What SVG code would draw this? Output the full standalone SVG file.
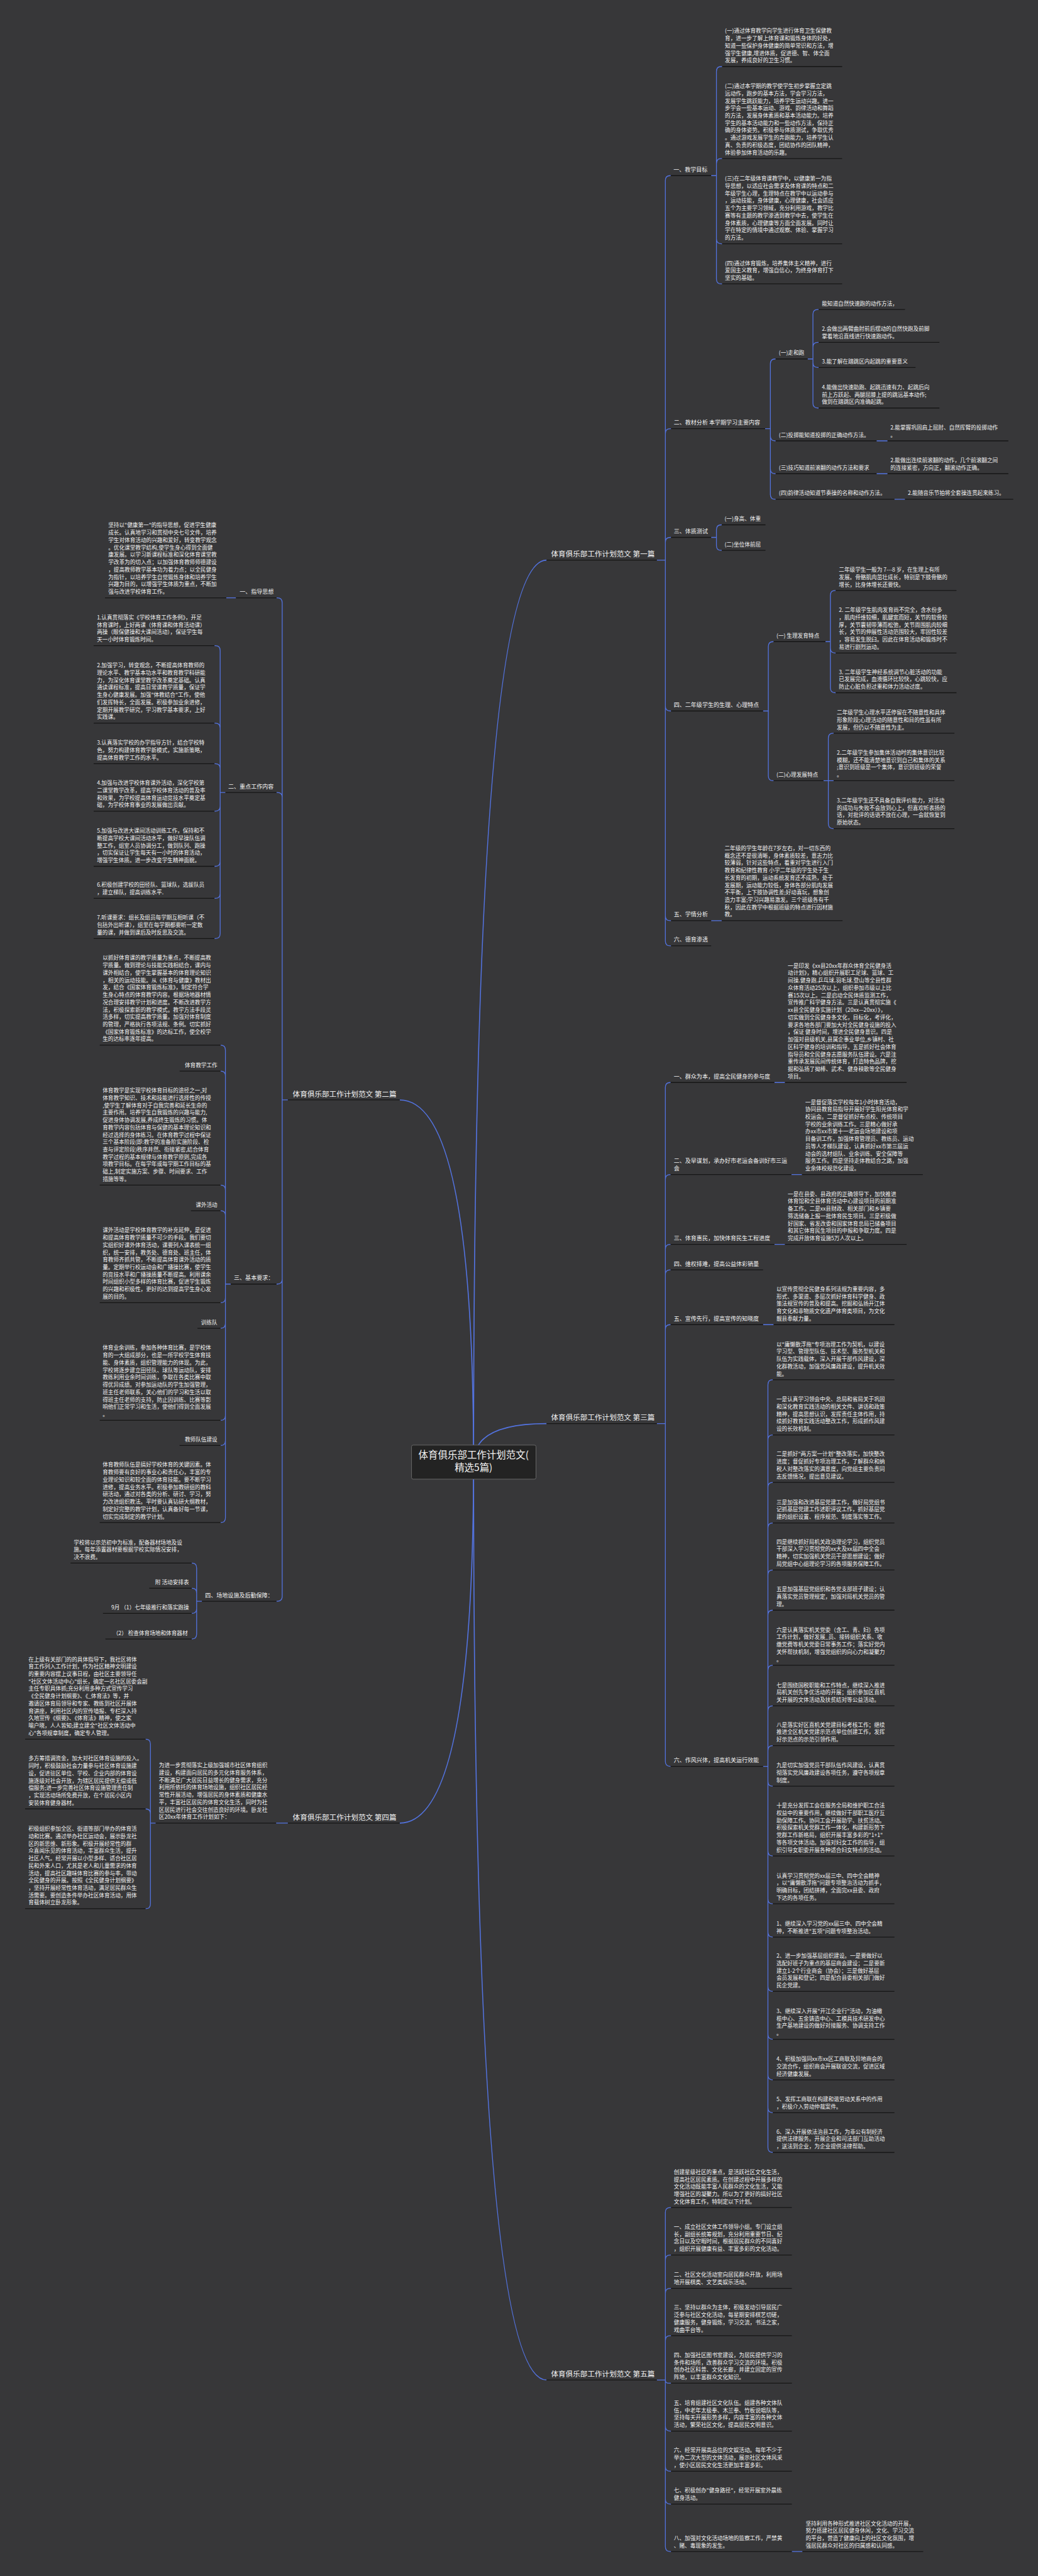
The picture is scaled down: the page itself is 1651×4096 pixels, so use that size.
<svg xmlns="http://www.w3.org/2000/svg" width="1651" height="4096" viewBox="0 0 1651 4096">
<style>
text{font-family:"Noto Sans CJK SC","Noto Sans",sans-serif;fill:#f2f2f2}
.t{font-size:13.4px}
.s{font-size:14px}
.b{font-size:18px}
.c{font-size:24px}
.u{stroke:#161616;stroke-width:2;fill:none}
#links path{stroke:#5373e0;fill:none;stroke-width:2}
#links .m{stroke-width:2.6}
.e{text-anchor:end}
</style>
<rect width="1651" height="4096" fill="#373739"/>
<g transform="scale(0.6449)">
<g id="links">
<path class="m" d="M1168 3605Q1168 1381 1348 1381"/>
<path class="m" d="M1168 3605Q1168 2712 986 2712"/>
<path class="m" d="M1168 3605Q1168 3510 1348 3510"/>
<path class="m" d="M1168 3605Q1168 4495 986 4495"/>
<path class="m" d="M1168 3605Q1168 5868 1348 5868"/>
<path d="M1620 1381H1641V445Q1641 433 1653 433H1655M1620 1381H1641V1069Q1641 1057 1653 1057H1655M1620 1381H1641V1337Q1641 1325 1653 1325H1655M1620 1381H1641V1741Q1641 1753 1653 1753H1655M1620 1381H1641V2258Q1641 2270 1653 2270H1655M1620 1381H1641V2320Q1641 2332 1653 2332H1655"/>
<path d="M1754 433H1767V176Q1767 164 1779 164H1781M1754 433H1767V403Q1767 391 1779 391H1781M1754 433H1767V589Q1767 601 1779 601H1781M1754 433H1767V688Q1767 700 1779 700H1781"/>
<path d="M1887 1057H1900V897Q1900 885 1912 885H1913M1887 1057H1900V1075Q1900 1087 1912 1087H1913M1887 1057H1900V1156Q1900 1168 1912 1168H1913M1887 1057H1900V1219Q1900 1231 1912 1231H1913"/>
<path d="M1992 885H2005V775Q2005 763 2017 763H2019M1992 885H2005V856Q2005 844 2017 844H2019M1992 885H2005V894Q2005 906 2017 906H2019M1992 885H2005V994Q2005 1006 2017 1006H2019"/>
<path d="M2162 1087H2189M2162 1168H2189M2206 1231H2232"/>
<path d="M1754 1325H1767V1306Q1767 1294 1779 1294H1780M1754 1325H1767V1345Q1767 1357 1779 1357H1780"/>
<path d="M1882 1753H1895V1594Q1895 1582 1907 1582H1908M1882 1753H1895V1913Q1895 1925 1907 1925H1908"/>
<path d="M2036 1582H2048V1468Q2048 1456 2060 1456H2061M2036 1582H2048V1598Q2048 1610 2060 1610H2061M2036 1582H2048V1696Q2048 1708 2060 1708H2061"/>
<path d="M2031 1925H2043V1820Q2043 1808 2055 1808H2056M2031 1925H2056M2031 1925H2043V2031Q2043 2043 2055 2043H2056"/>
<path d="M1754 2270H1780"/>
<path d="M710 2712H696V1486Q696 1474 684 1474H682M710 2712H696V1966Q696 1954 684 1954H682M710 2712H696V3154Q696 3166 684 3166H682M710 2712H696V3936Q696 3948 684 3948H682"/>
<path d="M582 1474H558"/>
<path d="M556 1954H543V1604Q543 1592 531 1592H529M556 1954H543V1795Q543 1783 531 1783H529M556 1954H543V1895Q543 1883 531 1883H529M556 1954H543V1988Q543 2000 531 2000H529M556 1954H543V2124Q543 2136 531 2136H529M556 1954H543V2203Q543 2215 531 2215H529M556 1954H543V2302Q543 2314 531 2314H529"/>
<path d="M569 3166H556V2589Q556 2577 544 2577M569 3166H556V2653Q556 2641 544 2641M569 3166H556V2934Q556 2922 544 2922M569 3166H556V2997Q556 2985 544 2985M569 3166H556V3200Q556 3212 544 3212M569 3166H556V3263Q556 3275 544 3275M569 3166H556V3490Q556 3502 544 3502M569 3166H556V3552Q556 3564 544 3564M569 3166H556V3742Q556 3754 544 3754"/>
<path d="M498 3948H485V3866Q485 3854 473 3854M498 3948H485V3928Q485 3916 473 3916M498 3948H485V3966Q485 3978 473 3978M498 3948H485V4029Q485 4041 473 4041"/>
<path d="M1620 3510H1641V2681Q1641 2669 1653 2669H1654M1620 3510H1641V2908Q1641 2896 1653 2896H1654M1620 3510H1641V3080Q1641 3068 1653 3068H1654M1620 3510H1641V3143Q1641 3131 1653 3131H1654M1620 3510H1641V3278Q1641 3266 1653 3266H1654M1620 3510H1641V4343Q1641 4355 1653 4355H1654"/>
<path d="M1910 2669H1936M1952 2896H1978M1910 3068H1936M1882 3266H1908"/>
<path d="M1882 4355H1894V3414Q1894 3402 1906 3402M1882 4355H1894V3550Q1894 3538 1906 3538M1882 4355H1894V3667Q1894 3655 1906 3655M1882 4355H1894V3767Q1894 3755 1906 3755M1882 4355H1894V3883Q1894 3871 1906 3871M1882 4355H1894V3982Q1894 3970 1906 3970M1882 4355H1894V4118Q1894 4106 1906 4106M1882 4355H1894V4218Q1894 4206 1906 4206M1882 4355H1894V4316Q1894 4304 1906 4304M1882 4355H1894V4392Q1894 4404 1906 4404M1882 4355H1894V4564Q1894 4576 1906 4576M1882 4355H1894V4682Q1894 4694 1906 4694M1882 4355H1894V4764Q1894 4776 1906 4776M1882 4355H1894V4898Q1894 4910 1906 4910M1882 4355H1894V5016Q1894 5028 1906 5028M1882 4355H1894V5116Q1894 5128 1906 5128M1882 4355H1894V5197Q1894 5209 1906 5209M1882 4355H1894V5295Q1894 5307 1906 5307"/>
<path d="M710 4495H681"/>
<path d="M384 4495H371V4300Q371 4288 359 4288M384 4495H371V4472Q371 4460 359 4460M384 4495H371V4694Q371 4706 359 4706"/>
<path d="M1620 5868H1641V5455Q1641 5443 1653 5443H1655M1620 5868H1641V5572Q1641 5560 1653 5560H1655M1620 5868H1641V5654Q1641 5642 1653 5642H1655M1620 5868H1641V5771Q1641 5759 1653 5759H1655M1620 5868H1641V5868Q1641 5876 1649 5876H1655M1620 5868H1641V5982Q1641 5994 1653 5994H1655M1620 5868H1641V6081Q1641 6093 1653 6093H1655M1620 5868H1641V6162Q1641 6174 1653 6174H1655M1620 5868H1641V6279Q1641 6291 1653 6291H1655"/>
<path d="M1953 6291H1979"/>
</g>

<g id="n0">
<rect x="1015" y="3563" width="307" height="84" rx="4" fill="#232323" stroke="#6a6a6a" stroke-width="1.5"/>
<text class="c" x="1168" y="3596" text-anchor="middle">体育俱乐部工作计划范文(</text>
<text class="c" x="1168" y="3627" text-anchor="middle">精选5篇)</text>
</g>

<!-- Branch 1 -->
<g id="b1"><text class="b" x="1359" y="1373">体育俱乐部工作计划范文 第一篇</text><path class="u" d="M1348 1381H1620"/></g>
<g id="b1-1"><text class="s" x="1661" y="423">一、教学目标</text><path class="u" d="M1654 433H1754"/></g>
<g id="b1-1-1"><text class="t" x="1788" y="81.2"><tspan x="1788">(一)通过体育教学向学生进行体育卫生保健教</tspan><tspan x="1788" dy="18.2">育，进一步了解上体育课和锻炼身体的好处，</tspan><tspan x="1788" dy="18.2">知道一些保护身体健康的简单常识和方法，增</tspan><tspan x="1788" dy="18.2">强学生健康,增进体质，促进德、智、体全面</tspan><tspan x="1788" dy="18.2">发展，养成良好的卫生习惯。</tspan></text><path class="u" d="M1781 164H2077"/></g>
<g id="b1-1-2"><text class="t" x="1788" y="217.2"><tspan x="1788">(二)通过本学期的教学使学生初步掌握立定跳</tspan><tspan x="1788" dy="18.2">远动作，跑步的基本方法，学会学习方法，</tspan><tspan x="1788" dy="18.2">发展学生跳跃能力，培养学生运动兴趣。进一</tspan><tspan x="1788" dy="18.2">步学会一些基本运动、游戏、韵律活动和舞蹈</tspan><tspan x="1788" dy="18.2">的方法，发展身体素质和基本活动能力。培养</tspan><tspan x="1788" dy="18.2">学生的基本活动能力和一些动作方法，保持正</tspan><tspan x="1788" dy="18.2">确的身体姿势。积极参与体质测试，争取优秀</tspan><tspan x="1788" dy="18.2">。通过游戏发展学生的奔跑能力，培养学生认</tspan><tspan x="1788" dy="18.2">真、负责的积极态度，团结协作的团队精神，</tspan><tspan x="1788" dy="18.2">体验参加体育活动的乐趣。</tspan></text><path class="u" d="M1781 391H2077"/></g>
<g id="b1-1-3"><text class="t" x="1788" y="445.4"><tspan x="1788">(三)在二年级体育课教学中，以健康第一为指</tspan><tspan x="1788" dy="18.2">导思想，以适应社会需求及体育课的特点和二</tspan><tspan x="1788" dy="18.2">年级学生心理，生理特点在教学中以运动参与</tspan><tspan x="1788" dy="18.2">，运动技能，身体健康，心理健康，社会适应</tspan><tspan x="1788" dy="18.2">五个为主要学习领域，充分利用游戏，教学比</tspan><tspan x="1788" dy="18.2">赛等有主题的教学渗透到教学中去，使学生在</tspan><tspan x="1788" dy="18.2">身体素质，心理健康等方面全面发展。同时让</tspan><tspan x="1788" dy="18.2">学在特定的情境中通过观察、体验、掌握学习</tspan><tspan x="1788" dy="18.2">的方法。</tspan></text><path class="u" d="M1781 601H2077"/></g>
<g id="b1-1-4"><text class="t" x="1788" y="653.6"><tspan x="1788">(四)通过体育锻炼，培养集体主义精神，进行</tspan><tspan x="1788" dy="18.2">爱国主义教育，增强自信心，为终身体育打下</tspan><tspan x="1788" dy="18.2">坚实的基础。</tspan></text><path class="u" d="M1781 700H2077"/></g>

<g id="b1-2"><text class="s" x="1662" y="1047">二、教材分析 本学期学习主要内容</text><path class="u" d="M1655 1057H1887"/></g>
<g id="b1-2-1"><text class="t" x="1921" y="875">(一)走和跑</text><path class="u" d="M1913 885H1992"/></g>
<g id="b1-2-1-1"><text class="t" x="2027" y="753">能知道自然快速跑的动作方法，</text><path class="u" d="M2019 763H2232"/></g>
<g id="b1-2-1-2"><text class="t" x="2027" y="815.8"><tspan x="2027">2.会做出两臂曲肘前后摆动的自然快跑及前脚</tspan><tspan x="2027" dy="18.2">掌着地沿直线进行快速跑动作。</tspan></text><path class="u" d="M2019 844H2317"/></g>
<g id="b1-2-1-3"><text class="t" x="2027" y="896">3.能了解在踏跳区内起跳的重要意义</text><path class="u" d="M2019 906H2258"/></g>
<g id="b1-2-1-4"><text class="t" x="2027" y="959.6"><tspan x="2027">4.能做出快速助跑、起跳迅速有力、起跳后向</tspan><tspan x="2027" dy="18.2">前上方跃起、两腿屈膝上提的跳远基本动作;</tspan><tspan x="2027" dy="18.2">做到在踏跳区内准确起跳。</tspan></text><path class="u" d="M2019 1006H2317"/></g>
<g id="b1-2-2"><text class="t" x="1921" y="1077">(二)投掷能知道投掷的正确动作方法。</text><path class="u" d="M1913 1087H2162"/></g>
<g id="b1-2-2-1"><text class="t" x="2196" y="1058.8"><tspan x="2196">2.能掌握巩固肩上屈肘、自然挥臂的投掷动作</tspan><tspan x="2196" dy="18.2">。</tspan></text><path class="u" d="M2189 1087H2487"/></g>
<g id="b1-2-3"><text class="t" x="1921" y="1158">(三)技巧知道前滚翻的动作方法和要求</text><path class="u" d="M1913 1168H2162"/></g>
<g id="b1-2-3-1"><text class="t" x="2196" y="1139.8"><tspan x="2196">2.能做出连续前滚翻的动作，几个前滚翻之间</tspan><tspan x="2196" dy="18.2">的连接紧密，方向正，翻滚动作正确。</tspan></text><path class="u" d="M2189 1168H2487"/></g>
<g id="b1-2-4"><text class="t" x="1921" y="1221">(四)韵律活动知道节奏操的名称和动作方法。</text><path class="u" d="M1913 1231H2206"/></g>
<g id="b1-2-4-1"><text class="t" x="2239" y="1221">2.能随音乐节拍将全套操连贯起来练习。</text><path class="u" d="M2232 1231H2499"/></g>

<g id="b1-3"><text class="s" x="1662" y="1315">三、体质测试</text><path class="u" d="M1655 1325H1754"/></g>
<g id="b1-3-1"><text class="t" x="1787" y="1284">(一)身高、体重</text><path class="u" d="M1780 1294H1888"/></g>
<g id="b1-3-2"><text class="t" x="1787" y="1347">(二)坐位体前屈</text><path class="u" d="M1780 1357H1888"/></g>

<g id="b1-4"><text class="s" x="1662" y="1743">四、二年级学生的生理、心理特点</text><path class="u" d="M1655 1753H1882"/></g>
<g id="b1-4-1"><text class="t" x="1915" y="1572">(一) 生理发育特点</text><path class="u" d="M1908 1582H2036"/></g>
<g id="b1-4-1-1"><text class="t" x="2069" y="1409.6"><tspan x="2069">二年级学生一般为 7---8 岁，在生理上有所</tspan><tspan x="2069" dy="18.2">发展。骨骼肌肉茁壮成长，特别是下肢骨骼的</tspan><tspan x="2069" dy="18.2">增长，比身体增长还要快。</tspan></text><path class="u" d="M2061 1456H2359"/></g>
<g id="b1-4-1-2"><text class="t" x="2069" y="1509"><tspan x="2069">2. 二年级学生肌肉发育尚不完全，含水份多</tspan><tspan x="2069" dy="18.2">，肌肉纤维较细，肌腱宽而短，关节的软骨较</tspan><tspan x="2069" dy="18.2">厚，关节囊韧带薄而松弛，关节周围肌肉较细</tspan><tspan x="2069" dy="18.2">长，关节的伸展性活动范围较大，牢固性较差</tspan><tspan x="2069" dy="18.2">，容易发生脱臼。因此在体育活动和锻炼时不</tspan><tspan x="2069" dy="18.2">易进行剧烈运动。</tspan></text><path class="u" d="M2061 1610H2359"/></g>
<g id="b1-4-1-3"><text class="t" x="2069" y="1661.6"><tspan x="2069">3. 二年级学生神经系统调节心脏活动的功能</tspan><tspan x="2069" dy="18.2">已发展完成，血液循环比较快，心跳较快，应</tspan><tspan x="2069" dy="18.2">防止心脏负担过重和体力活动过度。</tspan></text><path class="u" d="M2061 1708H2359"/></g>
<g id="b1-4-2"><text class="t" x="1915" y="1915">(二)心理发展特点</text><path class="u" d="M1908 1925H2031"/></g>
<g id="b1-4-2-1"><text class="t" x="2064" y="1761.6"><tspan x="2064">二年级学生心理水平还停留在不随意性和具体</tspan><tspan x="2064" dy="18.2">形象阶段;心理活动的随意性和目的性虽有所</tspan><tspan x="2064" dy="18.2">发展，但仍以不随意性为主。</tspan></text><path class="u" d="M2056 1808H2354"/></g>
<g id="b1-4-2-2"><text class="t" x="2064" y="1860.4"><tspan x="2064">2.二年级学生参加集体活动时的集体意识比较</tspan><tspan x="2064" dy="18.2">模糊，还不能清楚地意识到自己和集体的关系</tspan><tspan x="2064" dy="18.2">;意识到班级是一个集体，意识到班级的荣誉</tspan><tspan x="2064" dy="18.2">。</tspan></text><path class="u" d="M2056 1925H2354"/></g>
<g id="b1-4-2-3"><text class="t" x="2064" y="1978.4"><tspan x="2064">3.二年级学生还不具备自我评价能力，对活动</tspan><tspan x="2064" dy="18.2">的成功与失败不会放到心上，但喜欢听表扬的</tspan><tspan x="2064" dy="18.2">话，对批评的话语不放在心理，一会就恢复到</tspan><tspan x="2064" dy="18.2">原始状态。</tspan></text><path class="u" d="M2056 2043H2354"/></g>

<g id="b1-5"><text class="s" x="1662" y="2260">五、学情分析</text><path class="u" d="M1655 2270H1754"/></g>
<g id="b1-5-1"><text class="t" x="1787" y="2096.2"><tspan x="1787">二年级的学生年龄在7岁左右，对一切东西的</tspan><tspan x="1787" dy="18.2">概念还不是很清晰，身体素质较差，意志力比</tspan><tspan x="1787" dy="18.2">较薄弱，针对这些特点，着重对学生进行入门</tspan><tspan x="1787" dy="18.2">教育和纪律性教育  小学二年级的学生处于生</tspan><tspan x="1787" dy="18.2">长发育的初期，运动系统发育还不成熟，处于</tspan><tspan x="1787" dy="18.2">发展期，运动能力较低，身体各部分肌肉发展</tspan><tspan x="1787" dy="18.2">不平衡，上下肢协调性差;好动喜玩，想象创</tspan><tspan x="1787" dy="18.2">造力丰富;学习兴趣易激发。三个班级各有千</tspan><tspan x="1787" dy="18.2">秋，因此在教学中根据班级的特点进行因材施</tspan><tspan x="1787" dy="18.2">教。</tspan></text><path class="u" d="M1780 2270H2078"/></g>
<g id="b1-6"><text class="s" x="1662" y="2322">六、德育渗透</text><path class="u" d="M1655 2332H1754"/></g>

<!-- Branch 2 -->
<g id="b2"><text class="b" x="722" y="2704">体育俱乐部工作计划范文 第二篇</text><path class="u" d="M710 2712H986"/></g>
<g id="b2-1"><text class="s" x="591" y="1464">一、指导思想</text><path class="u" d="M582 1474H682"/></g>
<g id="b2-1-1"><text class="t" x="267" y="1300.2"><tspan x="267">坚持以"健康第一"的指导思想，促进学生健康</tspan><tspan x="267" dy="18.2">成长。认真地学习和贯彻中央七号文件，培养</tspan><tspan x="267" dy="18.2">学生对体育活动的兴趣和爱好，转变教学观念</tspan><tspan x="267" dy="18.2">。优化课堂教学结构,使学生身心得到全面健</tspan><tspan x="267" dy="18.2">康发展。以学习新课程标准和深化体育课堂教</tspan><tspan x="267" dy="18.2">学改革为的切入点；以加强体育教师师德建设</tspan><tspan x="267" dy="18.2">，提高教师教学基本功为着力点；以全民健身</tspan><tspan x="267" dy="18.2">为指针，以培养学生自觉锻炼身体和培养学生</tspan><tspan x="267" dy="18.2">兴趣为目的，以增强学生体质为重点，不断加</tspan><tspan x="267" dy="18.2">强与改进学校体育工作。</tspan></text><path class="u" d="M259 1474H558"/></g>
<g id="b2-2"><text class="s" x="563" y="1944">二、重点工作内容</text><path class="u" d="M556 1954H682"/></g>
<g id="b2-2-1"><text class="t" x="239" y="1527.4"><tspan x="239">1.认真贯彻落实《学校体育工作条例》，开足</tspan><tspan x="239" dy="18.2">体育课时，上好两课（体育课和体育活动课）</tspan><tspan x="239" dy="18.2">两操（眼保健操和大课间活动），保证学生每</tspan><tspan x="239" dy="18.2">天一小时体育锻炼时间。</tspan></text><path class="u" d="M231 1592H529"/></g>
<g id="b2-2-2"><text class="t" x="239" y="1645.6"><tspan x="239">2.加强学习，转变观念，不断提高体育教师的</tspan><tspan x="239" dy="18.2">理论水平、教学基本功水平和教育教学科研能</tspan><tspan x="239" dy="18.2">力，为深化体育课堂教学改革奠定基础。认真</tspan><tspan x="239" dy="18.2">通读课程标准，提高日常课教学质量，保证学</tspan><tspan x="239" dy="18.2">生身心健康发展。加强"体教结合"工作，使他</tspan><tspan x="239" dy="18.2">们发挥特长，全面发展。积极参加业余进修，</tspan><tspan x="239" dy="18.2">定期开展教学研究，学习教学基本要求，上好</tspan><tspan x="239" dy="18.2">实践课。</tspan></text><path class="u" d="M231 1783H529"/></g>
<g id="b2-2-3"><text class="t" x="239" y="1836.6"><tspan x="239">3.认真落实学校的办学指导方针，结合学校特</tspan><tspan x="239" dy="18.2">色，努力构建体育教学新模式，实施新策略，</tspan><tspan x="239" dy="18.2">提高体育教学工作的水平。</tspan></text><path class="u" d="M231 1883H529"/></g>
<g id="b2-2-4"><text class="t" x="239" y="1935.4"><tspan x="239">4.加强与改进学校体育课外活动，深化学校第</tspan><tspan x="239" dy="18.2">二课堂教学改革，提高学校体育活动的普及率</tspan><tspan x="239" dy="18.2">和效果，为学校提高体育运动竞技水平奠定基</tspan><tspan x="239" dy="18.2">础，为学校体育事业的发展做出贡献。</tspan></text><path class="u" d="M231 2000H529"/></g>
<g id="b2-2-5"><text class="t" x="239" y="2053.2"><tspan x="239">5.加强与改进大课间活动训练工作，保持和不</tspan><tspan x="239" dy="18.2">断提高学校大课间活动水平，做好早操队伍调</tspan><tspan x="239" dy="18.2">整工作，组室人员协调分工，做到队列、跑操</tspan><tspan x="239" dy="18.2">，切实保证让学生每天有一小时的体育活动，</tspan><tspan x="239" dy="18.2">增强学生体质。进一步改变学生精神面貌。</tspan></text><path class="u" d="M231 2136H529"/></g>
<g id="b2-2-6"><text class="t" x="239" y="2186.8"><tspan x="239">6.积极创建学校的田径队、篮球队，选拔队员</tspan><tspan x="239" dy="18.2">，建立梯队，提高训练水平.</tspan></text><path class="u" d="M231 2215H529"/></g>
<g id="b2-2-7"><text class="t" x="239" y="2267.6"><tspan x="239">7.听课要求：组长及组员每学期互相听课（不</tspan><tspan x="239" dy="18.2">包括外出听课），组里在每学期都要听一定数</tspan><tspan x="239" dy="18.2">量的课，并做到课后及时反思及交流。</tspan></text><path class="u" d="M231 2314H529"/></g>
<g id="b2-3"><text class="s" x="577" y="3156">三、基本要求：</text><path class="u" d="M569 3166H682"/></g>
<g id="b2-3-1"><text class="t" x="253" y="2366.8"><tspan x="253">以抓好体育课的教学质量为重点，不断提高教</tspan><tspan x="253" dy="18.2">学质量。做到理论与技能实践相结合，课内与</tspan><tspan x="253" dy="18.2">课外相结合，使学生掌握基本的体育理论知识</tspan><tspan x="253" dy="18.2">，相关的运动技能。从《体育与健康》教材出</tspan><tspan x="253" dy="18.2">发，结合《国家体育锻炼标准》，制定符合学</tspan><tspan x="253" dy="18.2">生身心特点的体育教学内容。根据场地器材情</tspan><tspan x="253" dy="18.2">况合理安排教学计划和进度。不断改进教学方</tspan><tspan x="253" dy="18.2">法，积极探索新的教学模式。教学方法手段灵</tspan><tspan x="253" dy="18.2">活多样，切实提高教学质量。加强对体育制度</tspan><tspan x="253" dy="18.2">的管理，严格执行各项法规、条例。切实抓好</tspan><tspan x="253" dy="18.2">《国家体育锻炼标准》的达标工作，使全校学</tspan><tspan x="253" dy="18.2">生的达标率逐年提高。</tspan></text><path class="u" d="M246 2577H544"/></g>
<g id="b2-3-2"><text class="t e" x="536" y="2631">体育教学工作</text><path class="u" d="M443 2641H544"/></g>
<g id="b2-3-3"><text class="t" x="253" y="2693.6"><tspan x="253">体育教学是实现学校体育目标的途径之一,对</tspan><tspan x="253" dy="18.2">体育教学知识、技术和技能进行选择性的传授</tspan><tspan x="253" dy="18.2">,使学生了解体育对于自我完善和延长生命的</tspan><tspan x="253" dy="18.2">主要作用。培养学生自我锻炼的兴趣与能力,</tspan><tspan x="253" dy="18.2">促进身体协调发展,养成终生锻炼的习惯。体</tspan><tspan x="253" dy="18.2">育教学内容包括体育与保健的基本理论知识和</tspan><tspan x="253" dy="18.2">经过选择的身体练习。在体育教学过程中保证</tspan><tspan x="253" dy="18.2">三个基本阶段(即:教学的准备阶实施阶段、检</tspan><tspan x="253" dy="18.2">查与评定阶段)秩序井然、衔接紧密,结合体育</tspan><tspan x="253" dy="18.2">教学过程的基本规律与体育教学原则,完成各</tspan><tspan x="253" dy="18.2">项教学目标。在每学年或每学期工作目标的基</tspan><tspan x="253" dy="18.2">础上,制定实施方案、步骤、时间要求、工作</tspan><tspan x="253" dy="18.2">措施等等。</tspan></text><path class="u" d="M246 2922H544"/></g>
<g id="b2-3-4"><text class="t e" x="536" y="2975">课外活动</text><path class="u" d="M471 2985H544"/></g>
<g id="b2-3-5"><text class="t" x="253" y="3038.2"><tspan x="253">课外活动是学校体育教学的补充延伸，是促进</tspan><tspan x="253" dy="18.2">和提高体育教学质量不可少的手段。我们要切</tspan><tspan x="253" dy="18.2">实组织好课外体育活动，课要列入课表统一组</tspan><tspan x="253" dy="18.2">织，统一安排，教务处、德育处、班主任，体</tspan><tspan x="253" dy="18.2">育教师齐抓共管，不断提高体育课外活动的质</tspan><tspan x="253" dy="18.2">量。定期举行校运动会和广播操比赛，使学生</tspan><tspan x="253" dy="18.2">的竞技水平和广播操质量不断提高。利用课余</tspan><tspan x="253" dy="18.2">时间组织小型多样的体育比赛，促进学生锻炼</tspan><tspan x="253" dy="18.2">的兴趣和积极性，更好的达到提高学生身心发</tspan><tspan x="253" dy="18.2">展的目的。</tspan></text><path class="u" d="M246 3212H544"/></g>
<g id="b2-3-6"><text class="t e" x="536" y="3265">训练队</text><path class="u" d="M487 3275H544"/></g>
<g id="b2-3-7"><text class="t" x="253" y="3328.2"><tspan x="253">体育业余训练，参加各种体育比赛，是学校体</tspan><tspan x="253" dy="18.2">育的一大组成部分，也是一所学校学生体育技</tspan><tspan x="253" dy="18.2">能、身体素质，组织管理能力的体现。为此，</tspan><tspan x="253" dy="18.2">学校将逐步建立田径队、球队等运动队，安排</tspan><tspan x="253" dy="18.2">教练利用业余时间训练，争取在各类比赛中取</tspan><tspan x="253" dy="18.2">得优异成绩。对参加运动队的学生加强管理，</tspan><tspan x="253" dy="18.2">班主任老师联系，关心他们的学习和生活以取</tspan><tspan x="253" dy="18.2">得班主任老师的支持，防止因训练、比赛等影</tspan><tspan x="253" dy="18.2">响他们正常学习和生活，使他们得到全面发展</tspan><tspan x="253" dy="18.2">。</tspan></text><path class="u" d="M246 3502H544"/></g>
<g id="b2-3-8"><text class="t e" x="536" y="3554">教师队伍建设</text><path class="u" d="M443 3564H544"/></g>
<g id="b2-3-9"><text class="t" x="253" y="3616.6"><tspan x="253">体育教师队伍是搞好学校体育的关键因素。体</tspan><tspan x="253" dy="18.2">育教师要有良好的事业心和责任心，丰富的专</tspan><tspan x="253" dy="18.2">业理论知识和较全面的体育技能。要不断学习</tspan><tspan x="253" dy="18.2">进修，提高业务水平。积极参加教研组的教科</tspan><tspan x="253" dy="18.2">研活动，通过对各类的分析、研讨、学习，努</tspan><tspan x="253" dy="18.2">力改进组织教法。平时要认真钻研大纲教材，</tspan><tspan x="253" dy="18.2">制定好完整的教学计划，认真备好每一节课，</tspan><tspan x="253" dy="18.2">切实完成制定的教学计划。</tspan></text><path class="u" d="M246 3754H544"/></g>
<g id="b2-4"><text class="s" x="506" y="3938">四、场地设施及后勤保障：</text><path class="u" d="M498 3948H682"/></g>
<g id="b2-4-1"><text class="t" x="182" y="3807.6"><tspan x="182">学校将以示范初中为标准，配备器材场地及设</tspan><tspan x="182" dy="18.2">施。每年添置器材要根据学校实际情况安排，</tspan><tspan x="182" dy="18.2">决不浪费。</tspan></text><path class="u" d="M174 3854H473"/></g>
<g id="b2-4-2"><text class="t e" x="466" y="3906">附 活动安排表</text><path class="u" d="M368 3916H473"/></g>
<g id="b2-4-3"><text class="t e" x="466" y="3968">9月  （1）七年级推行和落实跑操</text><path class="u" d="M254 3978H473"/></g>
<g id="b2-4-4"><text class="t e" x="463" y="4031">（2） 检查体育场地和体育器材</text><path class="u" d="M260 4041H473"/></g>

<!-- Branch 3 -->
<g id="b3"><text class="b" x="1359" y="3502">体育俱乐部工作计划范文 第三篇</text><path class="u" d="M1348 3510H1620"/></g>
<g id="b3-1"><text class="s" x="1662" y="2659">一、群众为本，提高全民健身的参与度</text><path class="u" d="M1654 2669H1910"/></g>
<g id="b3-1-1"><text class="t" x="1943" y="2386"><tspan x="1943">一是印发《xx县20xx年群众体育全民健身活</tspan><tspan x="1943" dy="18.2">动计划》，精心组织开展职工足球、篮球、工</tspan><tspan x="1943" dy="18.2">间操.健身跑.乒乓球.羽毛球.登山等全县性群</tspan><tspan x="1943" dy="18.2">众体育活动25次以上，组织参加市级以上比</tspan><tspan x="1943" dy="18.2">赛15次以上。二是启动全民体质监测工作，</tspan><tspan x="1943" dy="18.2">宣传推广科学健身方法。三是认真贯彻实施《</tspan><tspan x="1943" dy="18.2">xx县全民健身实施计划（20xx—20xx）》，</tspan><tspan x="1943" dy="18.2">切实做到全民健身条文化，目标化，考评化，</tspan><tspan x="1943" dy="18.2">要求各地各部门要加大对全民健身设施的投入</tspan><tspan x="1943" dy="18.2">，保证 健身时间，增进全民健身意识。四是</tspan><tspan x="1943" dy="18.2">加强对县级机关,县属企事业单位,乡镇村、社</tspan><tspan x="1943" dy="18.2">区科学健身的培训和指导。五是抓好社会体育</tspan><tspan x="1943" dy="18.2">指导员和全民健身志愿服务队伍建设。六是注</tspan><tspan x="1943" dy="18.2">重传承发展民间传统体育，打造特色品牌，挖</tspan><tspan x="1943" dy="18.2">掘和弘扬了拗棒、武术、健身秧歌等全民健身</tspan><tspan x="1943" dy="18.2">项目。</tspan></text><path class="u" d="M1936 2669H2236"/></g>
<g id="b3-2"><text class="s" x="1662" y="2867.8"><tspan x="1662">二、及早谋划，承办好市老运会备训好市三运</tspan><tspan x="1662" dy="18.2">会</tspan></text><path class="u" d="M1654 2896H1952"/></g>
<g id="b3-2-1"><text class="t" x="1986" y="2722.2"><tspan x="1986">一是督促落实学校每年1小时体育活动，</tspan><tspan x="1986" dy="18.2">协同县教育局指导开展好学生阳光体育和学</tspan><tspan x="1986" dy="18.2">校运会。二是督促抓好布点校、传统项目</tspan><tspan x="1986" dy="18.2">学校的业余训练工作。三是精心做好承</tspan><tspan x="1986" dy="18.2">办xx市xx市第十一老运会场地建设和项</tspan><tspan x="1986" dy="18.2">目备训工作，加强体育管理员、教练员、运动</tspan><tspan x="1986" dy="18.2">员等人才梯队建设，认真抓好xx市第三届运</tspan><tspan x="1986" dy="18.2">动会的选材组队、业余训练、安全保障等</tspan><tspan x="1986" dy="18.2">服务工作。四是坚持走体教结合之路，加强</tspan><tspan x="1986" dy="18.2">业余体校规范化建设。</tspan></text><path class="u" d="M1978 2896H2276"/></g>
<g id="b3-3"><text class="s" x="1662" y="3058">三、体育惠民，加快体育民生工程进度</text><path class="u" d="M1654 3068H1910"/></g>
<g id="b3-3-1"><text class="t" x="1943" y="2948.8"><tspan x="1943">一是在县委、县政府的正确领导下，加快推进</tspan><tspan x="1943" dy="18.2">体育馆和全县体育活动中心建设项目的前期准</tspan><tspan x="1943" dy="18.2">备工作。二是xx县财政、相关部门和乡镇要</tspan><tspan x="1943" dy="18.2">筛选储备上报一批体育民生项目。三是积极做</tspan><tspan x="1943" dy="18.2">好国家、省发改委和国家体育总局已储备项目</tspan><tspan x="1943" dy="18.2">和其它体育民生项目的申报和争取力度。四是</tspan><tspan x="1943" dy="18.2">完成开放体育设施5万人次以上。</tspan></text><path class="u" d="M1936 3068H2236"/></g>
<g id="b3-4"><text class="s" x="1662" y="3121">四、维权排难，提高公益体彩销量</text><path class="u" d="M1654 3131H1882"/></g>
<g id="b3-5"><text class="s" x="1662" y="3256">五、宣传先行，提高宣传的知晓度</text><path class="u" d="M1654 3266H1882"/></g>
<g id="b3-5-1"><text class="t" x="1915" y="3183.2"><tspan x="1915">以宣传贯彻全民健身系列法规为重要内容，多</tspan><tspan x="1915" dy="18.2">形式、多渠道、多层次抓好体育科学健身、政</tspan><tspan x="1915" dy="18.2">策法规宣传的普及和提高。挖掘和弘扬开江体</tspan><tspan x="1915" dy="18.2">育文化和非物质文化遗产体育类项目，为文化</tspan><tspan x="1915" dy="18.2">靓县奉献力量。</tspan></text><path class="u" d="M1908 3266H2206"/></g>
<g id="b3-6"><text class="s" x="1662" y="4345">六、作风兴体，提高机关运行效能</text><path class="u" d="M1654 4355H1882"/></g>
<g id="b3-6-1"><text class="t" x="1915" y="3319.2"><tspan x="1915">以"庸懒散浮拖"专项治理工作为契机，以建设</tspan><tspan x="1915" dy="18.2">学习型、管理型队伍、技术型、服务型机关和</tspan><tspan x="1915" dy="18.2">队伍为实践载体，深入开展干部作风建设，深</tspan><tspan x="1915" dy="18.2">化群教活动，加强党风廉政建设，提升机关效</tspan><tspan x="1915" dy="18.2">能。</tspan></text><path class="u" d="M1906 3402H2206"/></g>
<g id="b3-6-2"><text class="t" x="1915" y="3455.2"><tspan x="1915">一是认真学习领会中央、总局和省局关于巩固</tspan><tspan x="1915" dy="18.2">和深化教育实践活动的相关文件、讲话和政策</tspan><tspan x="1915" dy="18.2">精神，提高思想认识，发挥责任主体作用，持</tspan><tspan x="1915" dy="18.2">续抓好教育实践活动整改工作，形成抓作风建</tspan><tspan x="1915" dy="18.2">设的长效机制。</tspan></text><path class="u" d="M1906 3538H2206"/></g>
<g id="b3-6-3"><text class="t" x="1915" y="3590.4"><tspan x="1915">二是抓好"两方案一计划"整改落实，加快整改</tspan><tspan x="1915" dy="18.2">进度；督促抓好专项治理工作，了解群众和纳</tspan><tspan x="1915" dy="18.2">税人对整改落实的满意度，向党组主要负责同</tspan><tspan x="1915" dy="18.2">志反馈情况，提出意见建议。</tspan></text><path class="u" d="M1906 3655H2206"/></g>
<g id="b3-6-4"><text class="t" x="1915" y="3708.6"><tspan x="1915">三是加强和改进基层党建工作，做好局党组书</tspan><tspan x="1915" dy="18.2">记抓基层党建工作述职评议工作，抓好基层党</tspan><tspan x="1915" dy="18.2">建的组织设置、程序规范、制度落实等工作。</tspan></text><path class="u" d="M1906 3755H2206"/></g>
<g id="b3-6-5"><text class="t" x="1915" y="3806.4"><tspan x="1915">四是继续抓好局机关政治理论学习，组织党员</tspan><tspan x="1915" dy="18.2">干部深入学习贯彻党的xx大及xx届四中全会</tspan><tspan x="1915" dy="18.2">精神，切实加强机关党员干部思想建设；做好</tspan><tspan x="1915" dy="18.2">局党组中心组理论学习的各项服务保障工作。</tspan></text><path class="u" d="M1906 3871H2206"/></g>
<g id="b3-6-6"><text class="t" x="1915" y="3923.6"><tspan x="1915">五是加强基层党组织和各党支部班子建设；认</tspan><tspan x="1915" dy="18.2">真落实党员管理规定，加强对局机关党员的管</tspan><tspan x="1915" dy="18.2">理。</tspan></text><path class="u" d="M1906 3970H2206"/></g>
<g id="b3-6-7"><text class="t" x="1915" y="4023.2"><tspan x="1915">六是认真落实机关党委（含工、青、妇）各项</tspan><tspan x="1915" dy="18.2">工作计划，做好发展_员、接转组织关系、收</tspan><tspan x="1915" dy="18.2">缴党费等机关党委日常事务工作；落实好党内</tspan><tspan x="1915" dy="18.2">关怀帮扶机制，增强党组织的向心力和凝聚力</tspan><tspan x="1915" dy="18.2">。</tspan></text><path class="u" d="M1906 4106H2206"/></g>
<g id="b3-6-8"><text class="t" x="1915" y="4159.6"><tspan x="1915">七是围绕国税职能和工作特点，继续深入推进</tspan><tspan x="1915" dy="18.2">局机关创先争优活动的开展；组织参加区直机</tspan><tspan x="1915" dy="18.2">关开展的文体活动及扶贫结对等公益活动。</tspan></text><path class="u" d="M1906 4206H2206"/></g>
<g id="b3-6-9"><text class="t" x="1915" y="4257.6"><tspan x="1915">八是落实好区直机关党建目标考核工作；继续</tspan><tspan x="1915" dy="18.2">推进全区机关党建示范点单位创建工作，发挥</tspan><tspan x="1915" dy="18.2">好示范点的示范引领作用。</tspan></text><path class="u" d="M1906 4304H2206"/></g>
<g id="b3-6-10"><text class="t" x="1915" y="4357.6"><tspan x="1915">九是切实加强党员干部队伍作风建设，认真贯</tspan><tspan x="1915" dy="18.2">彻落实党风廉政建设各项任务，遵守各项规章</tspan><tspan x="1915" dy="18.2">制度。</tspan></text><path class="u" d="M1906 4404H2206"/></g>
<g id="b3-6-11"><text class="t" x="1915" y="4456.8"><tspan x="1915">十是充分发挥工会在服务全局和维护职工合法</tspan><tspan x="1915" dy="18.2">权益中的重要作用，继续做好干部职工医疗互</tspan><tspan x="1915" dy="18.2">助保障工作。协同工会开展助学、扶贫活动。</tspan><tspan x="1915" dy="18.2">积极探索机关党群工作一体化，构建新形势下</tspan><tspan x="1915" dy="18.2">党群工作新格局，组织开展丰富多彩的"1+1"</tspan><tspan x="1915" dy="18.2">等各项文体活动。加强对妇女工作的指导，组</tspan><tspan x="1915" dy="18.2">织引导女职委开展各种适合妇女特点的活动。</tspan></text><path class="u" d="M1906 4576H2206"/></g>
<g id="b3-6-12"><text class="t" x="1915" y="4629.4"><tspan x="1915">认真学习贯彻党的xx届三中、四中全会精神</tspan><tspan x="1915" dy="18.2">，以"庸懒散浮拖"问题专项整治活动为抓手，</tspan><tspan x="1915" dy="18.2">明确目标，团结拼搏，全面完xx县委、政府</tspan><tspan x="1915" dy="18.2">下达的各项任务。</tspan></text><path class="u" d="M1906 4694H2206"/></g>
<g id="b3-6-13"><text class="t" x="1915" y="4747.8"><tspan x="1915">1、继续深入学习党的xx届三中、四中全会精</tspan><tspan x="1915" dy="18.2">神，不断推进"五项"问题专项整治活动。</tspan></text><path class="u" d="M1906 4776H2206"/></g>
<g id="b3-6-14"><text class="t" x="1915" y="4827.2"><tspan x="1915">2、进一步加强基层组织建设。一是要做好以</tspan><tspan x="1915" dy="18.2">选配好班子为重点的基层商会建设；二是要新</tspan><tspan x="1915" dy="18.2">建立1-2个行业商会（协会）；三是做好基层</tspan><tspan x="1915" dy="18.2">会员发展和登记；四是配合县委相关部门做好</tspan><tspan x="1915" dy="18.2">民企党建。</tspan></text><path class="u" d="M1906 4910H2206"/></g>
<g id="b3-6-15"><text class="t" x="1915" y="4963.4"><tspan x="1915">3、继续深入开展"开江企业行"活动，为油橄</tspan><tspan x="1915" dy="18.2">榄中心、五金铸造中心、工模具技术研发中心</tspan><tspan x="1915" dy="18.2">生产基地建设的做好对接服务、协调支持工作</tspan><tspan x="1915" dy="18.2">。</tspan></text><path class="u" d="M1906 5028H2206"/></g>
<g id="b3-6-16"><text class="t" x="1915" y="5081.6"><tspan x="1915">4、积极加强同xx市xx区工商联及异地商会的</tspan><tspan x="1915" dy="18.2">交流合作，组织商会开展联谊交流，促进区域</tspan><tspan x="1915" dy="18.2">经济健康发展。</tspan></text><path class="u" d="M1906 5128H2206"/></g>
<g id="b3-6-17"><text class="t" x="1915" y="5180.8"><tspan x="1915">5、发挥工商联在构建和谐劳动关系中的作用</tspan><tspan x="1915" dy="18.2">，积极介入劳动仲裁案件。</tspan></text><path class="u" d="M1906 5209H2206"/></g>
<g id="b3-6-18"><text class="t" x="1915" y="5260.6"><tspan x="1915">6、深入开展依法治县工作，为非公有制经济</tspan><tspan x="1915" dy="18.2">提供法律服务。开展企业和司法部门互助活动</tspan><tspan x="1915" dy="18.2">，送法到企业，为企业提供法律帮助。</tspan></text><path class="u" d="M1906 5307H2206"/></g>

<!-- Branch 4 -->
<g id="b4"><text class="b" x="722" y="4487">体育俱乐部工作计划范文 第四篇</text><path class="u" d="M710 4495H986"/></g>
<g id="b4-1"><text class="t" x="392" y="4357.6"><tspan x="392">为进一步贯彻落实上级加强城市社区体育组织</tspan><tspan x="392" dy="18.2">建设，构建面向居民的多元化体育服务体系，</tspan><tspan x="392" dy="18.2">不断满足广大居民日益增长的健身需求，充分</tspan><tspan x="392" dy="18.2">利用所依托的体育场地设施，组织社区居民经</tspan><tspan x="392" dy="18.2">常性开展活动，增强居民的身体素质和健康水</tspan><tspan x="392" dy="18.2">平，丰富社区居民的体育文化生活，同时为社</tspan><tspan x="392" dy="18.2">区居民进行社会交往创造良好的环境。卧龙社</tspan><tspan x="392" dy="18.2">区20xx年体育工作计划如下：</tspan></text><path class="u" d="M384 4495H681"/></g>
<g id="b4-1-1"><text class="t" x="70" y="4096"><tspan x="70">在上级有关部门的的具体指导下，我社区将体</tspan><tspan x="70" dy="18.2">育工作列入工作计划，作为社区精神文明建设</tspan><tspan x="70" dy="18.2">的重要内容摆上议事日程，由社区主要领导任</tspan><tspan x="70" dy="18.2">"社区文体活动中心"组长，确定一名社区居委会副</tspan><tspan x="70" dy="18.2">主任专职具体抓;充分利用多种方式宣传学习</tspan><tspan x="70" dy="18.2">《全民健身计划纲要》、《_体育法》等，并</tspan><tspan x="70" dy="18.2">邀请区体育局领导和专家、教练到社区开展体</tspan><tspan x="70" dy="18.2">育讲座，利用社区内的宣传墙报、专栏深入持</tspan><tspan x="70" dy="18.2">久地宣传《纲要》、《体育法》精神，使之家</tspan><tspan x="70" dy="18.2">喻户晓，人人皆知;建立建全"社区文体活动中</tspan><tspan x="70" dy="18.2">心"各项规章制度，确定专人管理。</tspan></text><path class="u" d="M62 4288H359"/></g>
<g id="b4-1-2"><text class="t" x="70" y="4340.8"><tspan x="70">多方筹措调资金，加大对社区体育设施的投入。</tspan><tspan x="70" dy="18.2">同时，积极鼓励社会力量参与社区体育设施建</tspan><tspan x="70" dy="18.2">设，促进驻区单位、学校、企业内部的体育设</tspan><tspan x="70" dy="18.2">施逐级对社会开放，为辖区居民提供无偿或低</tspan><tspan x="70" dy="18.2">偿服务;进一步完善社区体育设施管理责任制</tspan><tspan x="70" dy="18.2">，实现活动场所免费开放，在个居民小区内</tspan><tspan x="70" dy="18.2">安装体育健身器材。</tspan></text><path class="u" d="M62 4460H359"/></g>
<g id="b4-1-3"><text class="t" x="70" y="4514"><tspan x="70">积极组织参加全区、街道等部门举办的体育活</tspan><tspan x="70" dy="18.2">动和比赛。通过举办社区运动会，展示卧龙社</tspan><tspan x="70" dy="18.2">区的新思维、新形象。积极开展经常性的群</tspan><tspan x="70" dy="18.2">众喜闻乐见的体育活动，丰富群众生活，提升</tspan><tspan x="70" dy="18.2">社区人气。经常开展以小型多样、适合社区居</tspan><tspan x="70" dy="18.2">民和外来人口，尤其是老人和儿童需求的体育</tspan><tspan x="70" dy="18.2">活动，提高社区趣味体育比赛的参与率，带动</tspan><tspan x="70" dy="18.2">全民健身的开展。按照《全民健身计划纲要》</tspan><tspan x="70" dy="18.2">，坚持开展经常性体育活动，满足居民群众生</tspan><tspan x="70" dy="18.2">活需要。要创造条件举办社区体育活动，用体</tspan><tspan x="70" dy="18.2">育载体树立卧龙形象。</tspan></text><path class="u" d="M62 4706H359"/></g>

<!-- Branch 5 -->
<g id="b5"><text class="b" x="1359" y="5860">体育俱乐部工作计划范文 第五篇</text><path class="u" d="M1348 5868H1620"/></g>
<g id="b5-1"><text class="t" x="1662" y="5360.2"><tspan x="1662">创建星级社区的重点，是活跃社区文化生活，</tspan><tspan x="1662" dy="18.2">提高社区居民素质。在创建过程中开展多样的</tspan><tspan x="1662" dy="18.2">文化活动既能丰富人民群众的文化生活，又能</tspan><tspan x="1662" dy="18.2">增强社区的凝聚力。所以为了更好的搞好社区</tspan><tspan x="1662" dy="18.2">文化体育工作，特制定以下计划。</tspan></text><path class="u" d="M1655 5443H1953"/></g>
<g id="b5-2"><text class="t" x="1662" y="5495.4"><tspan x="1662">一、成立社区文体工作领导小组。专门设立组</tspan><tspan x="1662" dy="18.2">长，副组长统筹规划，充分利用重要节日、纪</tspan><tspan x="1662" dy="18.2">念日以及空暇时间，根据居民群众的不同喜好</tspan><tspan x="1662" dy="18.2">，组织开展健康有益、丰富多彩的文化活动。</tspan></text><path class="u" d="M1655 5560H1953"/></g>
<g id="b5-3"><text class="t" x="1662" y="5613.8"><tspan x="1662">二、社区文化活动室向居民群众开放，利用场</tspan><tspan x="1662" dy="18.2">地开展棋类、文艺类娱乐活动。</tspan></text><path class="u" d="M1655 5642H1953"/></g>
<g id="b5-4"><text class="t" x="1662" y="5694.4"><tspan x="1662">三、坚持以群众为主体，积极发动引导居民广</tspan><tspan x="1662" dy="18.2">泛参与社区文化活动，每星期安排棋艺切磋，</tspan><tspan x="1662" dy="18.2">健康服务，健身锻炼，学习交流，书法之家，</tspan><tspan x="1662" dy="18.2">戏曲平台等。</tspan></text><path class="u" d="M1655 5759H1953"/></g>
<g id="b5-5"><text class="t" x="1662" y="5811.4"><tspan x="1662">四、加强社区图书室建设，为居民提供学习的</tspan><tspan x="1662" dy="18.2">条件和场所，改善群众学习交流的环境。积极</tspan><tspan x="1662" dy="18.2">创办社区科普、文化长廊，并建立固定的宣传</tspan><tspan x="1662" dy="18.2">阵地，以丰富群众文化知识。</tspan></text><path class="u" d="M1655 5876H1953"/></g>
<g id="b5-6"><text class="t" x="1662" y="5929.4"><tspan x="1662">五、培育组建社区文化队伍。组建各种文体队</tspan><tspan x="1662" dy="18.2">伍，中老年太极拳、木兰拳、竹板说唱队等，</tspan><tspan x="1662" dy="18.2">坚持每天开展形势多样，内容丰富的各种文体</tspan><tspan x="1662" dy="18.2">活动，繁荣社区文化，提高居民文明意识。</tspan></text><path class="u" d="M1655 5994H1953"/></g>
<g id="b5-7"><text class="t" x="1662" y="6046.6"><tspan x="1662">六、经常开展高品位的文娱活动。每年不少于</tspan><tspan x="1662" dy="18.2">举办二次大型的文体活动，展示社区文体风采</tspan><tspan x="1662" dy="18.2">，使小区居民文化生活更加丰富多彩。</tspan></text><path class="u" d="M1655 6093H1953"/></g>
<g id="b5-8"><text class="t" x="1662" y="6145.8"><tspan x="1662">七、积极创办"健身路径"，经常开展室外晨练</tspan><tspan x="1662" dy="18.2">健身活动。</tspan></text><path class="u" d="M1655 6174H1953"/></g>
<g id="b5-9"><text class="t" x="1662" y="6262.8"><tspan x="1662">八、加强对文化活动场地的监察工作，严禁黄</tspan><tspan x="1662" dy="18.2">、赌、毒现象的发生。</tspan></text><path class="u" d="M1655 6291H1953"/></g>
<g id="b5-9-1"><text class="t" x="1987" y="6226.6"><tspan x="1987">坚持利用各种形式推进社区文化活动的开展，</tspan><tspan x="1987" dy="18.2">努力搭建社区居民健身休闲，文化、学习交流</tspan><tspan x="1987" dy="18.2">的平台，营造了健康向上的社区文化氛围，增</tspan><tspan x="1987" dy="18.2">强居民群众对社区的归属感和认同感。</tspan></text><path class="u" d="M1979 6291H2277"/></g>
</g>
</svg>
